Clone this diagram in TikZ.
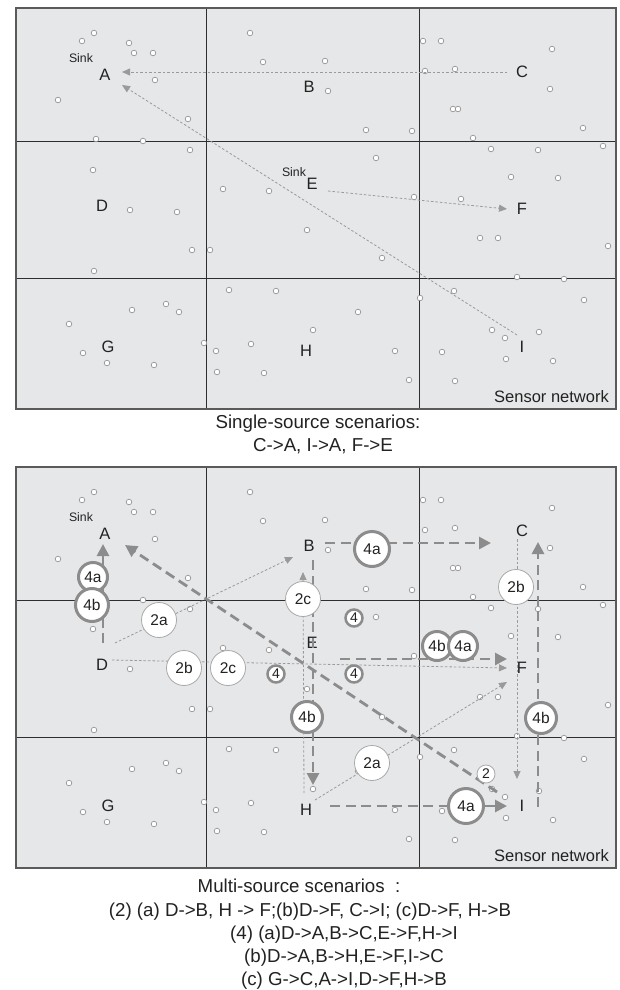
\documentclass[tikz,border=0pt]{standalone}
\usepackage{fontspec}
\setmainfont{Liberation Sans}
\usetikzlibrary{arrows.meta}
\definecolor{panelc}{HTML}{E6E7E9}
\definecolor{thinc}{HTML}{9A9A9A}
\definecolor{thickc}{HTML}{8C8C8C}
\definecolor{gridc}{HTML}{2E2E2E}
\definecolor{borderc}{HTML}{5A5A5A}
\definecolor{dotc}{HTML}{8A8A8A}
\definecolor{txtc}{HTML}{222222}
\definecolor{ctwoc}{HTML}{A8A8A8}
\tikzset{
  lbl/.style={font=\fontsize{16.5}{19}\selectfont, text=txtc, inner sep=0pt},
  sinklbl/.style={font=\fontsize{12.3}{14}\selectfont, text=txtc, inner sep=0pt},
  caption/.style={font=\fontsize{18.7}{22}\selectfont, text=txtc, inner sep=0pt, anchor=base},
  sensor/.style={circle, draw=dotc, fill=white, line width=0.6pt, minimum size=5.6pt, inner sep=0pt},
  gridline/.style={draw=gridc, line width=1pt},
  borderline/.style={draw=borderc, line width=1.6pt},
  thinarrow/.style={draw=thinc, line width=0.8pt, dash pattern=on 2.5pt off 2pt, -{Triangle[length=8pt,width=7pt]}},
  thickarrow/.style={draw=thickc, line width=2.8pt, dash pattern=on 10pt off 5.5pt, -{Triangle[length=12pt,width=12pt]}},
  ctwo/.style={circle, draw=ctwoc, line width=0.8pt, fill=white, minimum size=35pt, inner sep=0pt, text=txtc, font=\fontsize{15.5}{17}\selectfont},
  cfour/.style={circle, draw=thickc, line width=3pt, fill=white, minimum size=#1, inner sep=0pt, text=txtc, font=\fontsize{15.5}{17}\selectfont},
  cfour/.default=31pt,
  smallfour/.style={circle, draw=thickc, line width=2.5pt, fill=white, minimum size=17pt, inner sep=0pt, text=txtc, font=\fontsize{14}{16}\selectfont},
  smalltwo/.style={circle, draw=ctwoc, line width=0.8pt, fill=white, minimum size=18pt, inner sep=0pt, text=txtc, font=\fontsize{14}{16}\selectfont},
}
\newcommand\sensornet[2]{%
\begin{scope}[shift={(0,#2)}]
  \fill[panelc] (16,8) rectangle (616,409);
  \draw[gridline] (206,8) -- (206,409) (419,8) -- (419,409) (16,141) -- (616,141) (16,278) -- (616,278);
  \draw[borderline] (16,8) rectangle (616,409);
  \foreach \px/\py in {94/33,82/41,129/43,134/53,153/53,155/80,58/100,188/119,96/139,143/141,
    190/150,93/170,223/189,269/191,250/33,263/62,423/41,441/41,552/49,325/61,
    328/91,425/71,455/69,550/89,453/109,458/109,366/130,412/131,583/128,473/138,
    491/149,538/150,603/146,376/158,511/177,558/178,414/197,461/199,130/210,177/212,
    307/230,192/250,210/250,94/271,229/290,276/291,166/304,132/310,179/312,69/324,
    313/330,204/343,251/344,216/351,83/353,107/363,154/365,217/372,264/373,480/238,
    498/238,608/246,382/258,517/277,564/279,420/298,454/291,584/300,358/312,492/330,
    505/338,539/332,395/351,442/352,506/359,553/361,409/380,455/381}
    \node[sensor] at (\px,\py) {};
  \node[lbl] (#1A) at (105,75) {A};
  \node[lbl] (#1B) at (309,87) {B};
  \node[lbl] (#1C) at (522,72) {C};
  \node[lbl] (#1D) at (102,206) {D};
  \node[lbl] (#1E) at (312,184) {E};
  \node[lbl] (#1F) at (522,209) {F};
  \node[lbl] (#1G) at (108,347) {G};
  \node[lbl] (#1H) at (306,351) {H};
  \node[lbl] (#1I) at (522,347) {I};
  \node[sinklbl] (#1sink) at (81,58) {Sink};
  \node[lbl, anchor=east] (#1net) at (609,397) {Sensor network};
\end{scope}}

\begin{document}
\begin{tikzpicture}[x=1pt,y=-1pt]
\useasboundingbox[fill=white] (0,0) rectangle (620,990);

% ---------------- top panel: single source ----------------
\sensornet{t}{0}
\node[sinklbl] (tsinkE) at (294,172) {Sink};
\coordinate (tCs) at (507,72);  \coordinate (tAe1) at (122,72);
\coordinate (tIs) at (517,335); \coordinate (tAe2) at (122,85);
\coordinate (tEs) at (328,191); \coordinate (tFe) at (507,209);
\draw[thinarrow] (tCs) -- (tAe1);
\draw[thinarrow] (tIs) -- (tAe2);
\draw[thinarrow] (tEs) -- (tFe);

\node[caption] (cap1) at (318,428) {Single-source scenarios:};
\node[caption] (cap2) at (323,451) {C->A, I->A, F->E};

% ---------------- bottom panel: multi source ----------------
\sensornet{b}{459}

% thin (two-source) connectors
\coordinate (bDs1) at (115,643); \coordinate (bBe1) at (293,557);
\coordinate (bHs1) at (315,800); \coordinate (bFe1) at (507,682);
\coordinate (bDs2) at (112,660); \coordinate (bFe2) at (507,668);
\coordinate (bCs1) at (517,539); \coordinate (bIe1) at (517,779);
\coordinate (bHs2) at (304,793); \coordinate (bBe2) at (303,572);
\draw[thinarrow] (bDs1) -- (bBe1);
\draw[thinarrow] (bHs1) -- (bFe1);
\draw[thinarrow] (bDs2) -- (bFe2);
\draw[thinarrow] (bCs1) -- (bIe1);
\draw[thinarrow] (bHs2) -- (bBe2);

% thick (four-source) connectors
\coordinate (bDs3) at (103,643); \coordinate (bAe1) at (103,544);
\coordinate (bBs1) at (325,543); \coordinate (bCe1) at (491,543);
\coordinate (bEs1) at (340,659); \coordinate (bFe3) at (507,659);
\coordinate (bHs3) at (330,806); \coordinate (bIe2) at (507,806);
\coordinate (bBs2) at (313,560); \coordinate (bHe1) at (313,785);
\coordinate (bIs1) at (538,807); \coordinate (bCe2) at (538,542);
\coordinate (bIs2) at (497,792); \coordinate (bAe2) at (125,545);
\draw[thickarrow] (bDs3) -- (bAe1);
\draw[thickarrow] (bBs1) -- (bCe1);
\draw[thickarrow] (bEs1) -- (bFe3);
\draw[thickarrow] (bHs3) -- (bIe2);
\draw[thickarrow] (bBs2) -- (bHe1);
\draw[thickarrow] (bIs1) -- (bCe2);
\draw[thickarrow] (bIs2) -- (bAe2);

% scenario markers
\node[ctwo] (m2aDB) at (159,620) {2a};
\node[ctwo] (m2aHF) at (372,763) {2a};
\node[ctwo] (m2bDF) at (184,668) {2b};
\node[ctwo] (m2cDF) at (228,668) {2c};
\node[ctwo] (m2bCI) at (516,587) {2b};
\node[ctwo] (m2cHB) at (303,599) {2c};

\node[cfour=29pt] (m4aDA) at (93,577) {4a};
\node[cfour=33pt] (m4bDA) at (92,605) {4b};
\node[cfour=35pt] (m4aBC) at (372,549) {4a};
\node[cfour=29pt] (m4bEF) at (437,646) {4b};
\node[cfour=29pt] (m4aEF) at (463,646) {4a};
\node[cfour=35pt] (m4aHI) at (466,806) {4a};
\node[cfour=31pt] (m4bBH) at (307,717) {4b};
\node[cfour=31pt] (m4bIC) at (541,718) {4b};

\node[smallfour] (m4x1) at (354,618) {4};
\node[smallfour] (m4x2) at (276,674) {4};
\node[smallfour] (m4x3) at (354,674) {4};
\node[smalltwo] (m2x1) at (486,774) {2};

\node[caption] (cap3) at (299,892) {Multi-source scenarios\ \ :};
\node[caption] (cap4) at (310,916) {(2) (a) D->B, H -> F;(b)D->F, C->I; (c)D->F, H->B};
\node[caption] (cap5) at (344,939) {(4) (a)D->A,B->C,E->F,H->I};
\node[caption] (cap6) at (344,962) {(b)D->A,B->H,E->F,I->C};
\node[caption] (cap7) at (344,985) {(c) G->C,A->I,D->F,H->B};
\end{tikzpicture}
\end{document}
